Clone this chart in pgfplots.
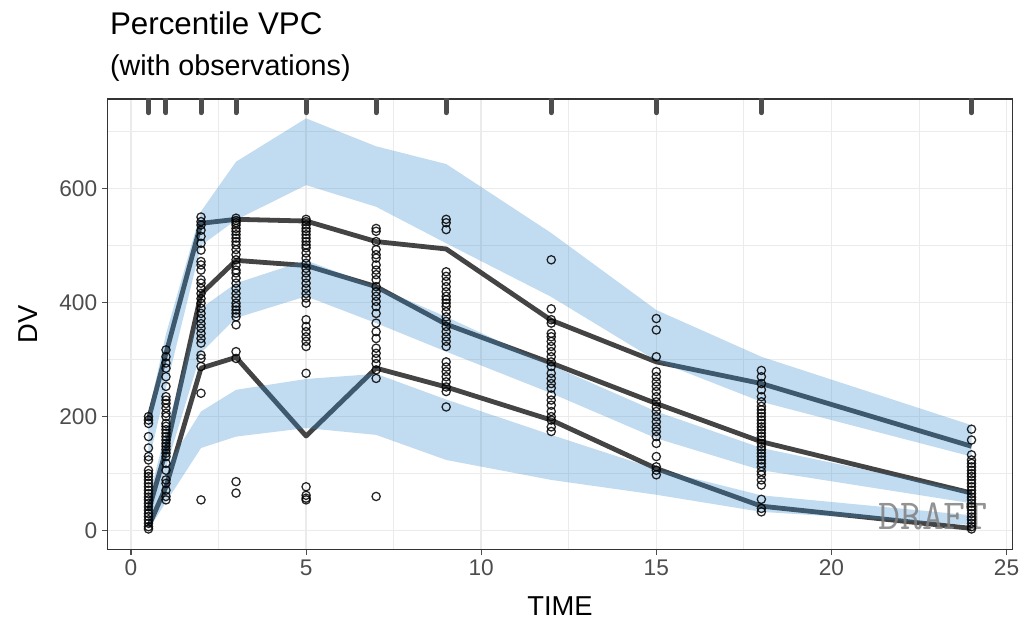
\documentclass[border=0pt]{standalone}
\usepackage{pgfplots}
\pgfplotsset{compat=1.18}
\usepackage{fontspec}
\setmainfont{Liberation Sans}
\definecolor{band}{HTML}{3388CC}
\definecolor{obsline}{HTML}{444444}
\definecolor{gridc}{HTML}{EBEBEB}
\definecolor{tickc}{HTML}{4D4D4D}
\definecolor{borderc}{HTML}{333333}
\begin{document}
\begin{tikzpicture}
\begin{axis}[
  scale only axis, width=679pt, height=337.7pt,
  xmin=-0.675, xmax=25.175, ymin=-32.6, ymax=757,
  xtick={0,5,...,25}, ytick={0,200,400,600},
  minor xtick={2.5,7.5,12.5,17.5,22.5}, minor ytick={100,300,500,700},
  grid=both,
  major grid style={draw=gridc, line width=1.2pt},
  minor grid style={draw=gridc, line width=0.6pt},
  axis line style={draw=borderc, line width=0.8pt},
  tick align=outside, major tick length=4.1pt, minor tick length=0pt,
  every tick/.style={draw=tickc, line width=0.8pt},
  xtick pos=left, ytick pos=left,
  /pgf/number format/assume math mode=true,
  ticklabel style={font=\fontsize{17}{17}\selectfont, text=tickc},
  xlabel={TIME}, ylabel={DV},
  label style={font=\fontsize{20.5}{20.5}\selectfont},
  xlabel style={at={(axis description cs:0.5,-0.147)}, anchor=base},
  ylabel style={at={(axis description cs:-0.0766,0.5)}, anchor=base},
  unbounded coords=jump,
]
% observations
\addplot[only marks, mark=o, mark size=3.1pt, mark options={line width=0.95pt, draw=black, draw opacity=0.85}] coordinates {
(0.5,200) (0.5,194) (0.5,188) (0.5,165) (0.5,145) (0.5,130) (0.5,124) (0.5,106) (0.5,100) (0.5,95) (0.5,89) (0.5,83) (0.5,77) (0.5,71) (0.5,65) (0.5,59) (0.5,54) (0.5,48) (0.5,42) (0.5,36) (0.5,30) (0.5,25) (0.5,19) (0.5,13) (0.5,7) (0.5,3)
(1,317) (1,305) (1,294) (1,285) (1,270) (1,253) (1,235) (1,229) (1,223) (1,215) (1,206) (1,200) (1,188) (1,183) (1,177) (1,171) (1,165) (1,159) (1,153) (1,148) (1,142) (1,136) (1,130) (1,118) (1,106) (1,89) (1,83) (1,71) (1,60) (1,54)
(2,550) (2,542) (2,536) (2,527) (2,516) (2,504) (2,492) (2,472) (2,466) (2,457) (2,440) (2,434) (2,425) (2,416) (2,407) (2,399) (2,390) (2,381) (2,372) (2,363) (2,355) (2,346) (2,337) (2,329) (2,308) (2,302) (2,288) (2,241) (2,54)
(3,548) (3,544) (3,540) (3,536) (3,530) (3,525) (3,519) (3,513) (3,507) (3,501) (3,493) (3,484) (3,475) (3,466) (3,457) (3,452) (3,443) (3,434) (3,425) (3,416) (3,408) (3,399) (3,393) (3,387) (3,381) (3,375) (3,361) (3,314) (3,302) (3,86) (3,66)
(5,546) (5,542) (5,536) (5,530) (5,525) (5,519) (5,513) (5,507) (5,501) (5,496) (5,487) (5,478) (5,469) (5,460) (5,452) (5,443) (5,434) (5,425) (5,416) (5,408) (5,399) (5,370) (5,358) (5,349) (5,340) (5,332) (5,323) (5,276) (5,77) (5,62) (5,57) (5,54)
(7,530) (7,525) (7,507) (7,493) (7,484) (7,478) (7,466) (7,457) (7,449) (7,440) (7,428) (7,419) (7,411) (7,402) (7,393) (7,381) (7,364) (7,349) (7,337) (7,320) (7,311) (7,302) (7,293) (7,282) (7,267) (7,60)
(9,546) (9,540) (9,528) (9,454) (9,446) (9,437) (9,428) (9,419) (9,411) (9,405) (9,399) (9,393) (9,384) (9,375) (9,367) (9,358) (9,349) (9,340) (9,332) (9,323) (9,296) (9,287) (9,279) (9,270) (9,261) (9,252) (9,244) (9,217)
(12,475) (12,389) (12,370) (12,364) (12,346) (12,340) (12,332) (12,323) (12,314) (12,305) (12,296) (12,288) (12,276) (12,267) (12,258) (12,250) (12,238) (12,229) (12,220) (12,209) (12,200) (12,194) (12,182) (12,174)
(15,372) (15,352) (15,305) (15,279) (15,270) (15,261) (15,253) (15,244) (15,235) (15,226) (15,217) (15,209) (15,200) (15,191) (15,182) (15,174) (15,165) (15,153) (15,130) (15,112) (15,106) (15,98)
(18,281) (18,270) (18,258) (18,247) (18,235) (18,226) (18,218) (18,212) (18,206) (18,200) (18,194) (18,188) (18,182) (18,177) (18,171) (18,165) (18,159) (18,153) (18,147) (18,142) (18,136) (18,130) (18,124) (18,118) (18,112) (18,104) (18,98) (18,89) (18,80) (18,55) (18,39) (18,33)
(24,178) (24,159) (24,133) (24,124) (24,118) (24,112) (24,106) (24,100) (24,95) (24,89) (24,83) (24,77) (24,71) (24,65) (24,59) (24,54) (24,48) (24,42) (24,36) (24,30) (24,24) (24,19) (24,13) (24,7) (24,3)
};
% observed percentile lines
\addplot[obsline, line width=3.6pt, line join=round] coordinates {(0.5,195) (1,311) (2,539) (3,546) (5,543) (7,507) (9,494) (12,369) (15,296) (18,258) (24,148)};
\addplot[obsline, line width=3.6pt, line join=round] coordinates {(0.5,35) (1,141) (2,415) (3,474) (5,465) (7,428) (9,362) (12,294) (15,223) (18,156) (24,66)};
\addplot[obsline, line width=3.6pt, line join=round] coordinates {(0.5,7) (1,77) (2,285) (3,304) (5,166) (7,285) (9,252) (12,194) (15,109) (18,43) (24,4)};
% simulated CI ribbons
\addplot[draw=none, fill=band, fill opacity=0.3] coordinates {(0.5,2) (1,50) (2,145) (3,165) (5,180) (7,168) (9,124) (12,89) (15,63) (18,33) (24,10) (24,27) (18,62) (15,108) (12,168) (9,230) (7,275) (5,266) (3,247) (2,209) (1,110) (0.5,22)};
\addplot[draw=none, fill=band, fill opacity=0.3] coordinates {(0.5,20) (1,110) (2,312) (3,373) (5,411) (7,364) (9,314) (12,241) (15,162) (18,106) (24,48) (24,68) (18,145) (15,209) (12,290) (9,375) (7,428) (5,474) (3,434) (2,390) (1,175) (0.5,55)};
\addplot[draw=none, fill=band, fill opacity=0.3] coordinates {(0.5,120) (1,250) (2,500) (3,545) (5,606) (7,568) (9,504) (12,410) (15,298) (18,226) (24,130) (24,185) (18,305) (15,387) (12,522) (9,643) (7,674) (5,723) (3,647) (2,560) (1,345) (0.5,205)};
% rug of bin times
\addplot[tickc, line width=3.75pt, line cap=round] coordinates {(0.5,733) (0.5,790) (0.5,nan) (1,733) (1,790) (1,nan) (2,733) (2,790) (2,nan) (3,733) (3,790) (3,nan) (5,733) (5,790) (5,nan) (7,733) (7,790) (7,nan) (9,733) (9,790) (9,nan) (12,733) (12,790) (12,nan) (15,733) (15,790) (15,nan) (18,733) (18,790) (18,nan) (24,733) (24,790)};
\node[font=\ttfamily\fontsize{32}{32}\selectfont, text=gray, opacity=0.85] at (axis cs:22.9,25.8) {DRAFT};
\end{axis}
\node[anchor=base west, font=\fontsize{23.5}{23.5}\selectfont] at ([xshift=-1.5pt,yshift=48pt]current axis.north west) {Percentile VPC};
\node[anchor=base west, font=\fontsize{21.5}{21.5}\selectfont] at ([xshift=-1.5pt,yshift=17.5pt]current axis.north west) {(with observations)};
\pgfresetboundingbox
\path ([shift={(-80.5pt,-55.3pt)}]current axis.south west) rectangle ([shift={(7pt,74.25pt)}]current axis.north east);
\end{tikzpicture}
\end{document}
